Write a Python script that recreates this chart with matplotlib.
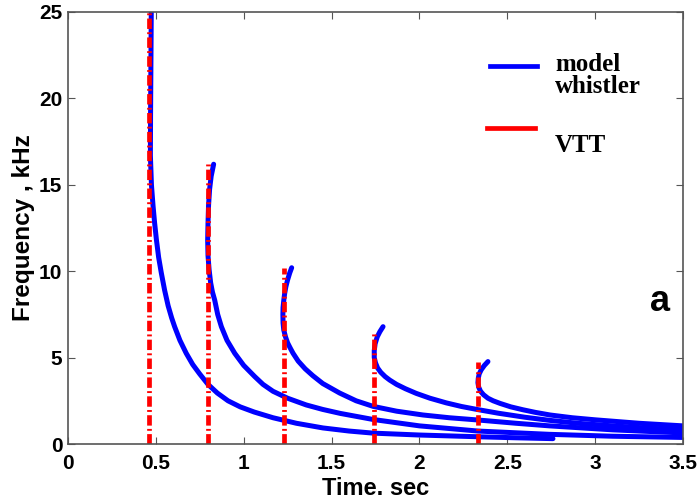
import matplotlib
matplotlib.use("Agg")
import matplotlib.pyplot as plt

# whistler traces (time in s, frequency in kHz)
t1 = [0.474, 0.472, 0.470, 0.469, 0.475, 0.484, 0.493, 0.503, 0.516, 0.531, 0.55, 0.57, 0.59, 0.607,
      0.637, 0.673, 0.71, 0.75, 0.797, 0.85, 0.911, 0.98, 1.06, 1.167, 1.3, 1.451, 1.6, 1.736, 2.0,
      2.333, 2.55, 2.76]
f1 = [25.0, 22.0, 19.0, 16.7, 15.0, 13.8, 12.8, 11.85, 10.8, 9.91, 8.9, 8.0, 7.3, 6.79,
      6.0, 5.25, 4.6, 4.05, 3.45, 2.95, 2.5, 2.15, 1.85, 1.52, 1.2, 0.93, 0.75, 0.63, 0.52,
      0.42, 0.36, 0.31]

t2 = [0.829, 0.815, 0.806, 0.80, 0.797, 0.795, 0.797, 0.803, 0.812, 0.822, 0.835, 0.852, 0.873, 0.905,
      0.949, 1.0, 1.063, 1.11, 1.167, 1.25, 1.356, 1.45, 1.55, 1.736, 2.0, 2.333, 2.74, 3.1, 3.5]
f2 = [16.19, 15.5, 14.74, 13.8, 12.8, 11.8, 10.9, 10.1, 9.33, 8.8, 8.33, 7.5, 6.79, 6.0,
      5.25, 4.55, 3.9, 3.45, 3.05, 2.65, 2.26, 2.0, 1.77, 1.42, 1.05, 0.75, 0.56, 0.45, 0.38]

t3 = [1.273, 1.262, 1.25, 1.24, 1.233, 1.228, 1.224, 1.223, 1.224, 1.228, 1.238, 1.25, 1.265, 1.281,
      1.31, 1.35, 1.394, 1.45, 1.546, 1.64, 1.736, 1.87, 2.02, 2.17, 2.333, 2.55, 2.74, 3.1, 3.5]
f3 = [10.2, 9.9, 9.5, 9.1, 8.7, 8.3, 7.9, 7.5, 7.0, 6.6, 6.2, 5.85, 5.55, 5.25,
      4.8, 4.35, 3.95, 3.5, 2.95, 2.5, 2.18, 1.9, 1.68, 1.52, 1.39, 1.2, 1.05, 0.82, 0.64]

t4 = [1.793, 1.775, 1.76, 1.748, 1.743, 1.743, 1.75, 1.762, 1.78, 1.805, 1.831, 1.87, 1.92, 1.982,
      2.06, 2.153, 2.24, 2.333, 2.45, 2.6, 2.74, 2.9, 3.1, 3.3, 3.5]
f4 = [6.79, 6.5, 6.2, 5.8, 5.4, 5.0, 4.7, 4.4, 4.15, 3.9, 3.7, 3.45, 3.2, 2.93,
      2.65, 2.38, 2.17, 1.99, 1.78, 1.55, 1.37, 1.2, 1.05, 0.92, 0.82]

t5 = [2.39, 2.37, 2.352, 2.34, 2.335, 2.333, 2.337, 2.348, 2.365, 2.39, 2.42, 2.459, 2.52, 2.59,
      2.66, 2.743, 2.87, 3.0, 3.25, 3.5]
f5 = [4.77, 4.55, 4.3, 4.05, 3.8, 3.55, 3.3, 3.05, 2.85, 2.65, 2.5, 2.35, 2.15, 1.98,
      1.83, 1.68, 1.52, 1.4, 1.2, 1.05]

# VTT markers
vtt_t = [0.459, 0.797, 1.229, 1.74, 2.333]
vtt_top = [25.0, 16.2, 10.2, 6.5, 4.77]

x_ticks = [0, 0.5, 1, 1.5, 2, 2.5, 3, 3.5]
x_labels = ["0", "0.5", "1", "1.5", "2", "2.5", "3", "3.5"]
y_ticks = [0, 5, 10, 15, 20, 25]

fig = plt.figure(figsize=(7.0, 4.99), dpi=100)
ax = fig.add_axes([0.0971, 0.1102, 0.8786, 0.8658])

for t, f in [(t1, f1), (t2, f2), (t3, f3), (t4, f4), (t5, f5)]:
    ax.plot(t, f, color="#0000ff", lw=3.6, solid_capstyle="round", solid_joinstyle="round")

for t, top in zip(vtt_t, vtt_top):
    ax.plot([t, t], [0, top], color="#ff0000", lw=3.4,
            dashes=[2.2, 0.7, 0.4, 0.7])

ax.set_xlim(0, 3.5)
ax.set_ylim(0, 25)
ax.set_xticks(x_ticks)
ax.set_xticklabels(x_labels)
ax.set_yticks(y_ticks)
ax.tick_params(direction="in", length=5, width=0.8, top=True, right=True,
               color="#555555", labelsize=15)
ax.tick_params(axis="x", pad=7)
ax.tick_params(axis="y", pad=4)
for lab in ax.get_xticklabels() + ax.get_yticklabels():
    lab.set_fontweight("bold")
    lab.set_family("Liberation Sans")
for s in ax.spines.values():
    s.set_color("#555555")
    s.set_linewidth(1.2)

ax.set_xlabel("Time. sec", fontsize=17, fontweight="bold", family="Liberation Sans", labelpad=3)
ax.set_ylabel("Frequency , kHz", fontsize=17.5, fontweight="bold", family="Liberation Sans", labelpad=3)

# hand-made legend, as in the reference
ax.plot([0.686, 0.763], [0.875, 0.875], transform=ax.transAxes, color="#0000ff", lw=3.4)
ax.plot([0.681, 0.759], [0.732, 0.732], transform=ax.transAxes, color="#ff0000", lw=3.4)
ax.text(0.792, 0.852, "model\nwhistler", transform=ax.transAxes, va="center", ha="left",
        fontsize=18, fontweight="bold", family="Liberation Serif", linespacing=0.95)
ax.text(0.792, 0.690, "VTT", transform=ax.transAxes, va="center", ha="left",
        fontsize=18, fontweight="bold", family="Liberation Serif")

ax.text(0.963, 0.329, "a", transform=ax.transAxes, ha="center", va="center",
        fontsize=26, fontweight="bold", family="Liberation Sans")

fig.savefig("out.png", dpi=100)
